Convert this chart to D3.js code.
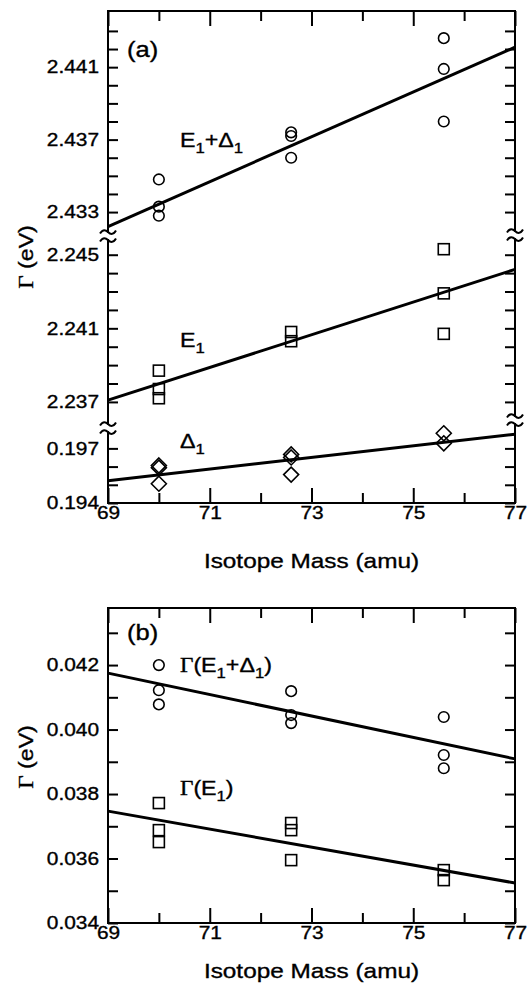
<!DOCTYPE html>
<html><head><meta charset="utf-8">
<script src="https://cdn.jsdelivr.net/npm/d3@7"></script>
<style>
html,body{margin:0;padding:0;background:#fff;}
svg{display:block;}
text{font-family:"Liberation Sans",Arial,Helvetica,sans-serif;fill:#000;stroke:#000;stroke-width:0.35px;}
</style></head><body>
<svg id="chart" width="528" height="984"></svg>
<script>
// ---- axis values ----
const massDomain = [69, 77];
const massMajor = [69, 71, 73, 75, 77];
const massMinor = [70, 72, 74, 76];

// panel (a): broken energy axis, three segments (top → bottom)
const segDomains = [[2.4319, 2.4441], [2.2358, 2.2458], [0.1940, 0.1979]];
const segTicks = [
  [2.433, 2.434, 2.435, 2.436, 2.437, 2.438, 2.439, 2.440, 2.441, 2.442, 2.443],
  [2.237, 2.238, 2.239, 2.240, 2.241, 2.242, 2.243, 2.244, 2.245],
  [0.194, 0.195, 0.196, 0.197]
];
const segLabels = [[2.433, 2.437, 2.441], [2.237, 2.241, 2.245], [0.194, 0.197]];

// panel (b) energy axis
const bDomain = [0.034, 0.04377];
const bTicks = [0.034, 0.035, 0.036, 0.037, 0.038, 0.039, 0.040, 0.041, 0.042, 0.043];
const bLabels = [0.034, 0.036, 0.038, 0.040, 0.042];

// ---- data: isotope mass vs. energy (eV) ----
const massSum = [70, 70, 70, 72.6, 72.6, 72.6, 75.6, 75.6, 75.6];
const energySum = [2.4348, 2.4333, 2.4328, 2.4374, 2.4372, 2.4360, 2.4426, 2.4409, 2.4380];
const fitSum = [2.4322, 2.4421];          // fitted values at 69 and 77 amu

const massE1 = [70, 70, 70, 72.6, 72.6, 75.6, 75.6, 75.6];
const energyE1 = [2.2387, 2.2377, 2.2372, 2.2408, 2.2403, 2.2453, 2.2429, 2.2407];
const fitE1 = [2.2371, 2.2442];

const massD1 = [70, 70, 70, 72.6, 72.6, 72.6, 75.6, 75.6];
const energyD1 = [0.19606, 0.19594, 0.19506, 0.19667, 0.19650, 0.19556, 0.19783, 0.19728];
const fitD1 = [0.19522, 0.19778];

const massBSum = [70, 70, 70, 72.6, 72.6, 72.6, 75.6, 75.6, 75.6];
const widthSum = [0.04200, 0.04122, 0.04078, 0.04119, 0.04045, 0.04020, 0.04039, 0.03921, 0.03880];
const fitBSum = [0.04175, 0.03909];

const massBE1 = [70, 70, 70, 72.6, 72.6, 72.6, 75.6, 75.6];
const widthE1 = [0.03772, 0.03688, 0.03651, 0.03710, 0.03688, 0.03595, 0.03564, 0.03533];
const fitBE1 = [0.03747, 0.03524];

// ---- layout ----
const svg = d3.select("#chart");
const X0 = 108, X1 = 515;
const x = d3.scaleLinear().domain(massDomain).range([X0, X1]);
const SX = 1.16; // horizontal text stretch

const aTop = 11, aBot = 503;
const segRanges = [[232, aTop], [424, 240], [aBot, 432]];
const segRightRanges = [[231, aTop], [416, 239], [aBot, 424]];
const ys = segDomains.map((d, i) => d3.scaleLinear().domain(d).range(segRanges[i]));

const bTop = 608, bBot = 923;
const yb = d3.scaleLinear().domain(bDomain).range([bBot, bTop]);

function stretch(sel) {
  sel.each(function () {
    const t = d3.select(this);
    const tx = +t.attr("x") || 0, ty = +t.attr("y") || 0;
    t.attr("transform", `translate(${tx},${ty}) scale(${SX},1) translate(${-tx},${-ty})`);
  });
}

function xAxes(top, bot) {
  const g = svg.append("g");
  g.append("g").attr("transform", `translate(0,${bot})`)
    .call(d3.axisBottom(x).tickValues(massMajor).tickSize(-15).tickSizeOuter(0).tickPadding(3).tickFormat(d3.format("d")))
    .call(a => a.select(".domain").remove())
    .call(a => a.selectAll("text").attr("font-size", 18).call(stretch));
  g.append("g").attr("transform", `translate(0,${bot})`)
    .call(d3.axisBottom(x).tickValues(massMinor).tickSize(-10).tickFormat(""))
    .call(a => a.select(".domain").remove());
  g.append("g").attr("transform", `translate(0,${top})`)
    .call(d3.axisTop(x).tickValues(massMajor).tickSize(-15).tickFormat(""))
    .call(a => a.select(".domain").remove());
  g.append("g").attr("transform", `translate(0,${top})`)
    .call(d3.axisTop(x).tickValues(massMinor).tickSize(-10).tickFormat(""))
    .call(a => a.select(".domain").remove());
  g.selectAll(".tick line").attr("stroke", "#000").attr("stroke-width", 2);
}

function yAxes(scale, ticks, labels) {
  const fmt = d3.format(".3f");
  const g = svg.append("g");
  g.append("g").attr("transform", `translate(${X0},0)`)
    .call(d3.axisLeft(scale).tickValues(ticks).tickSize(-10).tickPadding(9)
      .tickFormat(d => labels.some(l => Math.abs(l - d) < 1e-9) ? fmt(d) : ""))
    .call(a => a.select(".domain").remove())
    .call(a => a.selectAll("text").attr("font-size", 18).call(stretch));
  g.append("g").attr("transform", `translate(${X1},0)`)
    .call(d3.axisRight(scale).tickValues(ticks).tickSize(-10).tickFormat(""))
    .call(a => a.select(".domain").remove());
  g.selectAll(".tick line").attr("stroke", "#000").attr("stroke-width", 2);
}

function line(x1, y1, x2, y2, w) {
  svg.append("line").attr("x1", x1).attr("y1", y1).attr("x2", x2).attr("y2", y2)
    .attr("stroke", "#000").attr("stroke-width", w).attr("stroke-linecap", "square");
}

const tildePath = "M-8,1.5 C-5,-3.5 -2,-2 0,0 C2,2 5,3.5 8,-1.5";
function breakMark(cx, cy) {
  [-4, 4].forEach(dy => svg.append("path").attr("d", tildePath)
    .attr("transform", `translate(${cx},${cy + dy})`)
    .attr("fill", "none").attr("stroke", "#000").attr("stroke-width", 2));
}

function markers(kind, xs, vs, scale) {
  const g = svg.append("g").attr("fill", "none").attr("stroke", "#000").attr("stroke-width", 1.6);
  xs.forEach((m, i) => {
    const cx = x(m), cy = scale(vs[i]);
    if (kind === "circle") g.append("circle").attr("cx", cx).attr("cy", cy).attr("r", 5.3);
    else if (kind === "square") g.append("rect").attr("x", cx - 5.5).attr("y", cy - 5.5).attr("width", 11).attr("height", 11);
    else g.append("path").attr("d", `M${cx},${cy - 7.5}L${cx + 7.5},${cy}L${cx},${cy + 7.5}L${cx - 7.5},${cy}Z`);
  });
}

function fit(vals, scale) {
  svg.append("path")
    .attr("d", d3.line()([[x(massDomain[0]), scale(vals[0])], [x(massDomain[1]), scale(vals[1])]]))
    .attr("stroke", "#000").attr("stroke-width", 3).attr("fill", "none");
}

// label with Γ in serif and subscripted "1"s; parts: [text, kind]
function label(px, py, parts, size) {
  const t = svg.append("text").attr("x", px).attr("y", py).attr("font-size", size);
  parts.forEach(([s, k]) => {
    if (k === "sub") t.append("tspan").attr("font-size", size * 0.72).attr("dy", 6).text(s);
    else if (k === "up") t.append("tspan").attr("dy", -6).text(s);
    else if (k === "serif") t.append("tspan").attr("font-family", "'Liberation Serif','Times New Roman',serif").text(s);
    else t.append("tspan").text(s);
  });
  t.call(stretch);
  return t;
}

// ---- panel (a) ----
line(X0, aTop, X1, aTop, 2);
line(X0, aBot, X1, aBot, 2);
segRanges.forEach(r => line(X0, r[1], X0, r[0], 2));
segRightRanges.forEach(r => line(X1, r[1], X1, r[0], 2));
breakMark(X0, 236); breakMark(X0, 428);
breakMark(X1, 235); breakMark(X1, 420);
xAxes(aTop, aBot);
ys.forEach((s, i) => yAxes(s, segTicks[i], segLabels[i]));

fit(fitSum, ys[0]);
fit(fitE1, ys[1]);
fit(fitD1, ys[2]);
markers("circle", massSum, energySum, ys[0]);
markers("square", massE1, energyE1, ys[1]);
markers("diamond", massD1, energyD1, ys[2]);

label(127, 57, [["(a)"]], 22);
label(180, 147, [["E"], ["1", "sub"], ["+Δ", "up"], ["1", "sub"]], 20);
label(180, 347, [["E"], ["1", "sub"]], 20);
label(180, 448, [["Δ"], ["1", "sub"]], 20);

// ---- panel (b) ----
line(X0, bTop, X1, bTop, 2);
line(X0, bBot, X1, bBot, 2);
line(X0, bTop, X0, bBot, 2);
line(X1, bTop, X1, bBot, 2);
xAxes(bTop, bBot);
yAxes(yb, bTicks, bLabels);
fit(fitBSum, yb);
fit(fitBE1, yb);
markers("circle", massBSum, widthSum, yb);
markers("square", massBE1, widthE1, yb);

label(127, 640, [["(b)"]], 22);
label(180, 672, [["Γ", "serif"], ["(E"], ["1", "sub"], ["+Δ", "up"], ["1", "sub"], [")", "up"]], 20);
label(180, 795, [["Γ", "serif"], ["(E"], ["1", "sub"], [")", "up"]], 20);

// ---- axis titles ----
function xTitle(py) {
  svg.append("text").attr("x", (X0 + X1) / 2).attr("y", py).attr("text-anchor", "middle")
    .attr("font-size", 21).text("Isotope Mass (amu)").call(stretch);
}
function yTitle(cy) {
  const t = svg.append("text").attr("text-anchor", "middle").attr("font-size", 20)
    .attr("transform", `translate(33,${cy}) rotate(-90) scale(${SX},1)`);
  t.append("tspan").attr("font-family", "'Liberation Serif','Times New Roman',serif").text("Γ");
  t.append("tspan").text(" (eV)");
}
xTitle(568);
xTitle(978);
yTitle(257);
yTitle(757);
</script>
</body></html>
